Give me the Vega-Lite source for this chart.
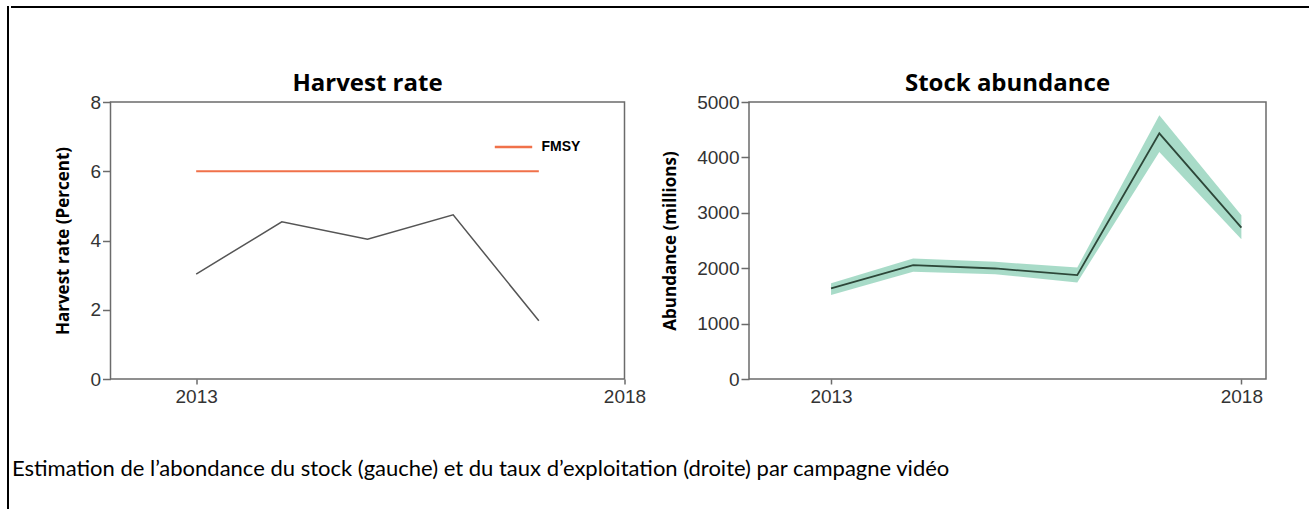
{
  "$schema": "https://vega.github.io/schema/vega-lite/v6.json",
  "padding": {"left": 5, "top": 4, "right": 0, "bottom": 0},
  "background": "white",
  "spacing": 0,
  "resolve": {"scale": {"color": "independent"}, "legend": {"color": "independent"}},
  "config": {
    "font": "Open Sans",
    "view": {"stroke": null},
    "axis": {
      "grid": false,
      "domain": false,
      "labelFont": "Liberation Sans",
      "labelFontSize": 19,
      "labelColor": "#333333",
      "tickColor": "#6b6b6b",
      "tickWidth": 1.5,
      "titleFont": "Open Sans",
      "titleFontSize": 17,
      "titleFontWeight": "bold",
      "titleColor": "#000000"
    }
  },
  "hconcat": [
    {
      "width": 2,
      "height": 505,
      "data": {"values": [{}]},
      "mark": {"type": "point", "opacity": 0},
      "encoding": {},
      "view": {"fill": "#000000", "stroke": null}
    },
    {
      "title": {
        "text": "Estimation de l’abondance du stock (gauche) et du taux d’exploitation (droite) par campagne vidéo",
        "orient": "bottom",
        "anchor": "start",
        "dx": 1,
        "offset": 52,
        "font": "Lato",
        "fontSize": 22,
        "fontWeight": "normal",
        "color": "#000000"
      },
      "spacing": 61,
      "resolve": {"scale": {"color": "independent"}, "legend": {"color": "independent"}},
      "vconcat": [
        {
          "width": 1302,
          "height": 2,
          "data": {"values": [{}]},
          "mark": {"type": "point", "opacity": 0},
          "encoding": {},
          "view": {"fill": "#000000", "stroke": null}
        },
        {
          "spacing": 13.5,
          "resolve": {"scale": {"color": "independent"}, "legend": {"color": "independent"}},
          "hconcat": [
            {
              "width": 28.5,
              "height": 1,
              "data": {"values": [{}]},
              "mark": {"type": "point", "opacity": 0},
              "encoding": {}
            },
            {
              "width": 514,
              "height": 277,
              "title": {"text": "Harvest rate", "font": "Open Sans", "fontSize": 24, "fontWeight": "bold", "color": "#000000", "offset": -3},
              "view": {"stroke": "#6b6b6b", "strokeWidth": 1.5},
              "data": {"values": [
                {"year": 2013, "rate": 3.03, "fmsy": 6},
                {"year": 2014, "rate": 4.54, "fmsy": 6},
                {"year": 2015, "rate": 4.04, "fmsy": 6},
                {"year": 2016, "rate": 4.74, "fmsy": 6},
                {"year": 2017, "rate": 1.68, "fmsy": 6}
              ]},
              "encoding": {
                "x": {
                  "field": "year", "type": "quantitative",
                  "scale": {"domain": [2012, 2018], "nice": false, "zero": false},
                  "axis": {"values": [2013, 2018], "format": "d", "title": null, "tickSize": 5, "labelPadding": 3, "labelFlush": false}
                }
              },
              "layer": [
                {
                  "mark": {"type": "line", "color": "#555555", "strokeWidth": 1.5},
                  "encoding": {
                    "y": {
                      "field": "rate", "type": "quantitative",
                      "scale": {"domain": [0, 8], "nice": false},
                      "axis": {"values": [0, 2, 4, 6, 8], "format": "d", "title": "Harvest rate (Percent)", "tickSize": 8, "labelPadding": 2, "titlePadding": 17}
                    }
                  }
                },
                {
                  "mark": {"type": "line", "strokeWidth": 2},
                  "encoding": {
                    "y": {"field": "fmsy", "type": "quantitative"},
                    "color": {
                      "datum": "FMSY", "type": "nominal",
                      "scale": {"range": ["#f0714a"]},
                      "legend": {
                        "title": null, "orient": "none", "legendX": 383, "legendY": 25,
                        "padding": 0, "symbolType": "stroke", "symbolSize": 1400,
                        "symbolStrokeWidth": 2.5, "labelFont": "Liberation Sans",
                        "labelFontSize": 14, "labelFontWeight": "bold", "labelColor": "#000000",
                        "labelOffset": 8
                      }
                    }
                  }
                }
              ]
            },
            {
              "width": 517,
              "height": 277,
              "title": {"text": "Stock abundance", "font": "Open Sans", "fontSize": 24, "fontWeight": "bold", "color": "#000000", "offset": -3},
              "view": {"stroke": "#6b6b6b", "strokeWidth": 1.5},
              "data": {"values": [
                {"year": 2013, "est": 1635, "lo": 1515, "hi": 1730},
                {"year": 2014, "est": 2055, "lo": 1935, "hi": 2175},
                {"year": 2015, "est": 1995, "lo": 1893, "hi": 2115},
                {"year": 2016, "est": 1875, "lo": 1743, "hi": 2013},
                {"year": 2017, "est": 4435, "lo": 4098, "hi": 4760},
                {"year": 2018, "est": 2734, "lo": 2524, "hi": 2957}
              ]},
              "encoding": {
                "x": {
                  "field": "year", "type": "quantitative",
                  "scale": {"domain": [2012, 2018.3], "nice": false, "zero": false},
                  "axis": {"values": [2013, 2018], "format": "d", "title": null, "tickSize": 5, "labelPadding": 3, "labelFlush": false}
                }
              },
              "layer": [
                {
                  "mark": {"type": "area", "color": "#a3d9c5", "opacity": 0.95},
                  "encoding": {
                    "y": {
                      "field": "lo", "type": "quantitative",
                      "scale": {"domain": [0, 5000], "nice": false},
                      "axis": {"values": [0, 1000, 2000, 3000, 4000, 5000], "format": "d", "title": "Abundance (millions)", "tickSize": 8, "labelPadding": 2, "titlePadding": 17}
                    },
                    "y2": {"field": "hi"}
                  }
                },
                {
                  "mark": {"type": "line", "color": "#2d4739", "strokeWidth": 1.8},
                  "encoding": {
                    "y": {"field": "est", "type": "quantitative"}
                  }
                }
              ]
            }
          ]
        }
      ]
    }
  ]
}
